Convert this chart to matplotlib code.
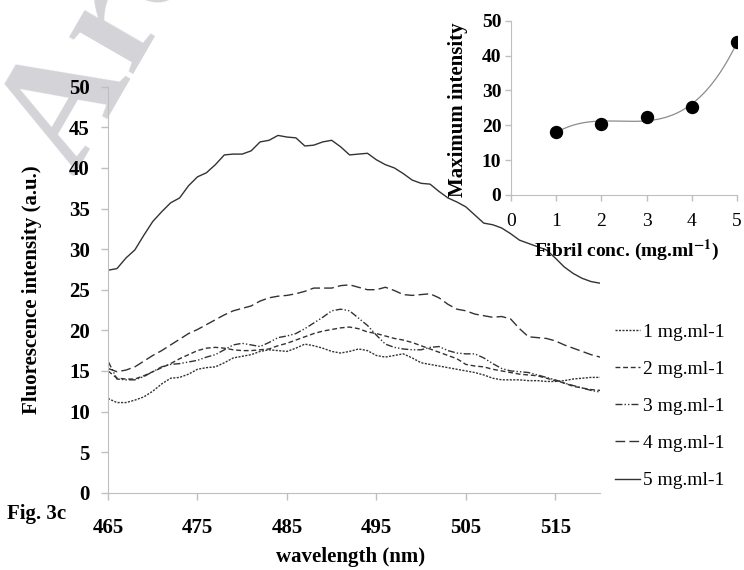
import numpy as np
import matplotlib
matplotlib.use("Agg")
import matplotlib.pyplot as plt

plt.rcParams["font.family"] = ["Liberation Serif", "DejaVu Serif"]
plt.rcParams["mathtext.fontset"] = "stix"

# emission spectra, one reading per nm
wavelength = np.arange(465, 521)

conc_1 = [11.6, 11.1, 11.1, 11.4, 11.8, 12.5, 13.4, 14.1, 14.2, 14.6,
          15.2, 15.4, 15.5, 16.0, 16.6, 16.8, 17.0, 17.4, 17.6, 17.5,
          17.4, 17.8, 18.3, 18.1, 17.8, 17.4, 17.2, 17.4, 17.7, 17.5,
          16.9, 16.7, 16.9, 17.1, 16.6, 16.0, 15.8, 15.6, 15.4, 15.2,
          15.0, 14.8, 14.5, 14.1, 13.9, 13.9, 13.9, 13.8, 13.8, 13.7,
          13.7, 13.8, 14.0, 14.1, 14.2, 14.2]
conc_2 = [15.0, 14.1, 14.0, 14.0, 14.4, 14.9, 15.4, 15.9, 16.5, 17.0,
          17.5, 17.8, 17.9, 17.8, 17.6, 17.5, 17.5, 17.6, 17.7, 18.1,
          18.4, 18.8, 19.2, 19.6, 19.9, 20.1, 20.3, 20.4, 20.2, 19.8,
          19.6, 19.3, 19.0, 18.8, 18.5, 18.1, 17.7, 17.3, 16.9, 16.5,
          15.8, 15.6, 15.5, 15.2, 15.0, 14.8, 14.6, 14.5, 14.4, 14.1,
          13.8, 13.5, 13.1, 12.9, 12.7, 12.6]
conc_3 = [16.2, 14.0, 13.9, 13.9, 14.3, 14.9, 15.5, 15.8, 15.9, 16.1,
          16.3, 16.7, 17.0, 17.6, 18.2, 18.4, 18.2, 18.0, 18.5, 19.1,
          19.3, 19.6, 20.2, 20.9, 21.6, 22.4, 22.6, 22.4, 21.5, 20.6,
          19.4, 18.3, 17.9, 17.7, 17.6, 17.6, 17.9, 18.0, 17.5, 17.2,
          17.1, 17.1, 16.6, 15.9, 15.3, 15.0, 14.9, 14.8, 14.5, 14.2,
          13.9, 13.5, 13.2, 12.9, 12.6, 12.4]
conc_4 = [15.3, 14.9, 15.1, 15.5, 16.2, 16.9, 17.5, 18.2, 18.9, 19.6,
          20.1, 20.7, 21.3, 21.9, 22.4, 22.7, 23.0, 23.6, 24.0, 24.2,
          24.3, 24.5, 24.8, 25.2, 25.2, 25.2, 25.5, 25.6, 25.3, 25.0,
          25.0, 25.3, 24.9, 24.4, 24.3, 24.4, 24.5, 24.0, 23.2, 22.6,
          22.4, 22.0, 21.8, 21.6, 21.7, 21.4, 20.2, 19.2, 19.1, 19.0,
          18.7, 18.2, 17.8, 17.4, 17.0, 16.7]
conc_5 = [27.4, 27.6, 28.9, 29.9, 31.7, 33.4, 34.6, 35.7, 36.3, 37.8,
          38.9, 39.4, 40.4, 41.6, 41.7, 41.7, 42.1, 43.2, 43.4, 44.0,
          43.8, 43.7, 42.7, 42.8, 43.2, 43.4, 42.6, 41.6, 41.7, 41.8,
          41.0, 40.4, 40.0, 39.3, 38.5, 38.1, 38.0, 37.1, 36.3, 35.8,
          35.2, 34.2, 33.2, 33.0, 32.6, 31.9, 31.1, 30.7, 30.3, 29.9,
          28.9, 27.8, 27.0, 26.4, 26.0, 25.8]

series_labels = ["1 mg.ml-1", "2 mg.ml-1", "3 mg.ml-1", "4 mg.ml-1", "5 mg.ml-1"]
dash_styles = [(0, (1.5, 1.0)), (0, (3.5, 2.0)), (0, (5, 1.5, 1, 1.5, 1, 1.5)),
               (0, (7, 3)), "-"]

# inset: peak intensity vs fibril concentration
fibril_conc = [1, 2, 3, 4, 5]
max_intensity = [18.1, 20.4, 22.5, 25.3, 43.9]

grey = "#bfbfbf"
line_col = "#333333"

fig = plt.figure(figsize=(7.44, 5.70), dpi=100)

# faint watermark behind everything
fig.text(0.10, 0.69, "Archive of SID", fontsize=115, fontweight="bold",
         color="#d4d4d8", rotation=60, rotation_mode="anchor",
         ha="left", va="baseline", zorder=-1)

ax = fig.add_axes([0.1452, 0.1356, 0.6613, 0.7123])
ax.patch.set_alpha(0)
for ys, ls, lab in zip([conc_1, conc_2, conc_3, conc_4, conc_5], dash_styles, series_labels):
    ax.plot(wavelength, ys, linestyle=ls, color=line_col, lw=1.0, label=lab)

ax.set_xlim(465, 520)
ax.set_ylim(0, 50)
ax.set_xticks([465, 475, 485, 495, 505, 515])
ax.set_yticks(range(0, 51, 5))
for s in ["top", "right"]:
    ax.spines[s].set_visible(False)
for s in ["left", "bottom"]:
    ax.spines[s].set_color(grey)
ax.tick_params(axis="both", colors=grey, length=5, width=1, direction="out",
               labelsize=15, labelcolor="black")
ax.tick_params(axis="x", pad=13)
ax.tick_params(axis="y", pad=8)
for t in ax.get_xticklabels() + ax.get_yticklabels():
    t.set_fontweight("bold")

ax.set_xlabel("wavelength (nm)", fontsize=15, fontweight="bold", va="center")
ax.xaxis.set_label_coords(0.492, -0.158)
ax.set_ylabel("Fluorescence intensity (a.u.)", fontsize=15, fontweight="bold", va="center")
ax.yaxis.set_label_coords(-0.155, 0.50)

ax.legend(loc="center left", bbox_to_anchor=(0.8266, 0.287),
          bbox_transform=fig.transFigure, frameon=False, fontsize=14,
          handlelength=1.3, handletextpad=0.15, labelspacing=1.0,
          borderpad=0, borderaxespad=0)

fig.text(0.009, 0.098, "Fig. 3c", fontsize=15, fontweight="bold", va="center", ha="left")

# inset axes
ins = fig.add_axes([0.6868, 0.6579, 0.3038, 0.3058])
ins.patch.set_alpha(0)
coef = np.polyfit(fibril_conc, max_intensity, 3)
xfit = np.linspace(1, 5, 200)
ins.plot(xfit, np.polyval(coef, xfit), color="#8c8c8c", lw=0.9)
ins.plot(fibril_conc, max_intensity, "o", color="black", ms=8.6)
ins.set_xlim(0, 5)
ins.set_ylim(0, 50)
ins.set_xticks(range(0, 6))
ins.set_yticks(range(0, 51, 10))
for s in ["top", "right"]:
    ins.spines[s].set_visible(False)
for s in ["left", "bottom"]:
    ins.spines[s].set_color(grey)
ins.tick_params(axis="both", colors=grey, length=4, width=1, direction="out",
                labelsize=14, labelcolor="black")
ins.tick_params(axis="x", pad=9)
ins.tick_params(axis="y", pad=3)
for t in ins.get_yticklabels():
    t.set_fontweight("bold")
ins.set_ylabel("Maximum intensity", fontsize=15, fontweight="bold", va="center")
ins.yaxis.set_label_coords(-0.235, 0.49)
ins.set_xlabel(r"Fibril conc. (mg.ml$^{\mathbf{-1}}$)", fontsize=14, fontweight="bold", va="center")
ins.xaxis.set_label_coords(0.513, -0.316)

fig.savefig("out.png", dpi=100)
